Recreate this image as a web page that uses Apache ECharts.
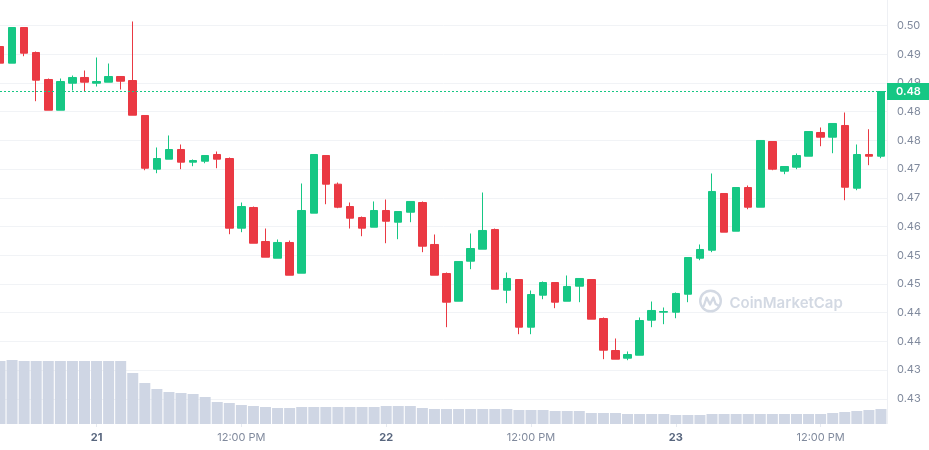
<!DOCTYPE html>
<html>
<head>
<meta charset="utf-8">
<script src="https://cdn.jsdelivr.net/npm/echarts@6/dist/echarts.min.js"></script>
<style>
  html, body { margin: 0; padding: 0; background: #ffffff; }
  #chart { width: 929px; height: 450px; }
</style>
</head>
<body>
<div id="chart"></div>
<script>
// Hour offsets relative to day 21 00:00 (hourly candles)
const hours = [-8,-7,-6,-5,-4,-3,-2,-1,0,1,2,3,4,5,6,7,8,9,10,11,12,13,14,15,16,17,18,19,20,21,22,23,24,25,26,27,28,29,30,31,32,33,34,35,36,37,38,39,40,41,42,43,44,45,46,47,48,49,50,51,52,53,54,55,56,57,58,59,60,61,62,63,64,65];

const opens = [0.49634,0.49344,0.49965,0.49530,0.49060,0.48525,0.48995,0.49095,0.48995,0.49013,0.49112,0.49042,0.48433,0.47498,0.47672,0.47841,0.47620,0.47637,0.47754,0.47684,0.46471,0.46831,0.46239,0.45948,0.46222,0.45687,0.46732,0.47736,0.47237,0.46848,0.46657,0.46488,0.46779,0.46575,0.46749,0.46918,0.46187,0.45682,0.45199,0.45896,0.46105,0.46448,0.45391,0.45577,0.44747,0.45304,0.45525,0.45199,0.45461,0.45577,0.44898,0.44341,0.44207,0.44259,0.44869,0.45008,0.45008,0.45321,0.45948,0.46087,0.47075,0.46418,0.47179,0.46836,0.47980,0.47463,0.47533,0.47724,0.48137,0.48055,0.48259,0.47167,0.47754,0.47724];

const closes = [0.49344,0.49965,0.49518,0.49048,0.48525,0.49025,0.49095,0.49013,0.49025,0.49112,0.49030,0.48438,0.47515,0.47684,0.47841,0.47620,0.47649,0.47736,0.47672,0.46471,0.46848,0.46209,0.45966,0.46222,0.45652,0.46779,0.47754,0.47237,0.46836,0.46645,0.46471,0.46779,0.46592,0.46761,0.46936,0.46157,0.45652,0.45182,0.45891,0.46117,0.46431,0.45408,0.45595,0.44747,0.45316,0.45525,0.45182,0.45456,0.45595,0.44886,0.44346,0.44190,0.44271,0.44863,0.45038,0.45020,0.45334,0.45960,0.46100,0.47110,0.46401,0.47179,0.46836,0.47998,0.47498,0.47545,0.47736,0.48154,0.48055,0.48294,0.47184,0.47754,0.47724,0.48851];

const lows = [0.49344,0.49344,0.49465,0.48682,0.48525,0.48525,0.48868,0.48851,0.48938,0.49013,0.48886,0.48438,0.47480,0.47428,0.47672,0.47498,0.47550,0.47602,0.47515,0.46366,0.46401,0.46209,0.45966,0.45948,0.45652,0.45687,0.46732,0.46888,0.46819,0.46465,0.46331,0.46488,0.46209,0.46279,0.46575,0.46053,0.45652,0.44747,0.45199,0.45757,0.46105,0.45408,0.45165,0.44625,0.44625,0.45234,0.45078,0.45199,0.45182,0.44886,0.44190,0.44190,0.44172,0.44259,0.44747,0.44799,0.44903,0.45182,0.45913,0.46053,0.46401,0.46418,0.46801,0.46836,0.47480,0.47411,0.47498,0.47724,0.47898,0.47776,0.46958,0.47132,0.47568,0.47689];

const highs = [0.49634,0.49965,0.49965,0.49547,0.49077,0.49077,0.49129,0.49216,0.49443,0.49338,0.49112,0.50070,0.48433,0.47876,0.48085,0.47928,0.47667,0.47736,0.47806,0.47702,0.46918,0.46848,0.46465,0.46274,0.46256,0.47249,0.47754,0.47736,0.47266,0.46918,0.46674,0.46936,0.46970,0.46761,0.46936,0.46936,0.46361,0.45699,0.45891,0.46378,0.47092,0.46465,0.45699,0.45577,0.45386,0.45543,0.45525,0.45647,0.45595,0.45577,0.44916,0.44550,0.44324,0.44916,0.45194,0.45090,0.45351,0.45960,0.46187,0.47423,0.47075,0.47179,0.47214,0.47998,0.47980,0.47545,0.47771,0.48154,0.48224,0.48294,0.48485,0.47928,0.48194,0.48851];

const volumes = [63,64,63,63,63,63,63,63,63,63,63,51,41,35,32,31,30,27,22,21,19,18,17,16,16,17,17,17,17,17,17,17,18,18,18,16,15,15,15,15,15,15,15,14,14,14,13,13,13,11,11,11,10,10,10,10,9,9,9,10,10,10,10,10,10,10,10,10,10,11,12,13,14,15];

const yTickLabels = ['0.50','0.49','0.49','0.48','0.48','0.47','0.47','0.46','0.45','0.45','0.44','0.44','0.43','0.43'];
const xTickValues = [0, 12, 24, 36, 48, 60];
const xTickLabels = ['21', '12:00 PM', '22', '12:00 PM', '23', '12:00 PM'];
const dayTicks = [0, 24, 48];

const GREEN = '#16c784';
const RED = '#ea3943';
const FONT = 'Inter, "Noto Sans", sans-serif';

const candleData = hours.map((h, i) => [h, opens[i], closes[i], lows[i], highs[i]]);
const volumeData = hours.map((h, i) => [h, volumes[i]]);
const lastIdx = closes.length - 1;
const lastClose = closes[lastIdx];

const chart = echarts.init(document.getElementById('chart'), null, { renderer: 'canvas' });

chart.setOption({
  animation: false,
  backgroundColor: '#ffffff',
  grid: [
    { left: 0, right: 42, top: 25.5, bottom: 51.2 },
    { left: 0, right: 42, top: 355, bottom: 26 }
  ],
  xAxis: [
    {
      type: 'value', gridIndex: 0, min: -8, max: 65.5,
      show: false
    },
    {
      type: 'value', gridIndex: 1, min: -8, max: 65.5,
      axisLine: { show: false },
      splitLine: { show: false },
      axisTick: {
        show: true, length: 3, customValues: xTickValues,
        lineStyle: { color: '#e6e9ef' }
      },
      axisLabel: {
        customValues: xTickValues,
        margin: 8,
        fontFamily: FONT,
        fontSize: 11,
        color: '#808a9d',
        formatter: function (v) {
          const idx = xTickValues.indexOf(Math.round(v));
          if (idx < 0) return '';
          return dayTicks.indexOf(Math.round(v)) >= 0 ? '{d|' + xTickLabels[idx] + '}' : xTickLabels[idx];
        },
        rich: {
          d: { fontFamily: FONT, fontSize: 11, fontWeight: 700, color: '#58667e' }
        }
      }
    }
  ],
  yAxis: [
    {
      type: 'value', gridIndex: 0, position: 'right',
      min: 0.435, max: 0.5, interval: 0.005,
      axisLine: { show: false },
      axisTick: { show: false },
      splitLine: { show: true, lineStyle: { color: '#f1f3f6', width: 1 } },
      axisLabel: {
        margin: 10,
        fontFamily: FONT,
        fontSize: 11,
        color: '#808a9d',
        formatter: function (v) {
          const idx = Math.round((0.5 - v) / 0.005);
          return yTickLabels[idx] !== undefined ? yTickLabels[idx] : '';
        }
      }
    },
    {
      type: 'value', gridIndex: 1, min: 0, max: 69,
      show: false
    }
  ],
  graphic: [
    {
      type: 'line', z: 1, silent: true,
      shape: { x1: 887.5, y1: 0, x2: 887.5, y2: 424 },
      style: { stroke: '#eef0f4', lineWidth: 1 }
    },
    {
      type: 'circle', z: 1, silent: true,
      shape: { cx: 710.5, cy: 301, r: 10.3 },
      style: { fill: 'none', stroke: '#d3d9e3', lineWidth: 2.4 }
    },
    {
      type: 'polyline', z: 1, silent: true,
      shape: { points: [[703.8, 306], [706.6, 297.6], [710, 304.5], [713.4, 297.6], [715.6, 304], [718.5, 305.5]] },
      style: { fill: 'none', stroke: '#d3d9e3', lineWidth: 2.3, lineJoin: 'round', lineCap: 'round' }
    },
    {
      type: 'text', z: 1, silent: true,
      x: 729.5, y: 303.5,
      style: {
        text: 'CoinMarketCap',
        fill: '#d3d9e3',
        font: '600 15px Inter, "Noto Sans", sans-serif',
        verticalAlign: 'middle',
        align: 'left'
      }
    }
  ],
  series: [
    {
      type: 'bar',
      xAxisIndex: 1, yAxisIndex: 1,
      data: volumeData,
      barWidth: 11,
      itemStyle: { color: '#cfd6e4' },
      silent: true
    },
    {
      type: 'candlestick',
      xAxisIndex: 0, yAxisIndex: 0,
      data: candleData,
      encode: { x: 0, y: [1, 2, 3, 4] },
      barWidth: 8,
      clip: false,
      itemStyle: {
        color: GREEN, color0: RED,
        borderColor: GREEN, borderColor0: RED,
        borderWidth: 1
      },
      markLine: {
        silent: true,
        precision: 6,
        symbol: ['none', 'none'],
        data: [{ yAxis: lastClose }],
        lineStyle: { color: GREEN, type: [2, 2], width: 1, opacity: 1 },
        label: {
          show: true,
          position: 'end',
          distance: 0,
          backgroundColor: GREEN,
          color: '#ffffff',
          fontFamily: FONT,
          fontSize: 11,
          fontWeight: 600,
          padding: [3, 10, 3, 9],
          formatter: function (p) {
            return (Math.floor(p.value * 100) / 100).toFixed(2);
          }
        }
      }
    }
  ]
});
</script>
</body>
</html>
